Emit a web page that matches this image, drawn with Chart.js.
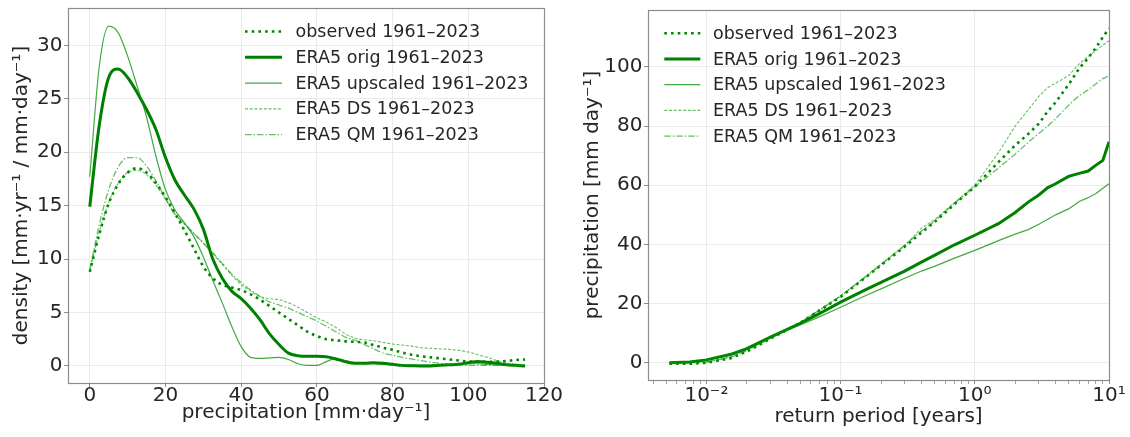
<!DOCTYPE html>
<html lang="en">
<head>
<meta charset="UTF-8">
<title>Precipitation density and return periods</title>
<script src="https://cdn.jsdelivr.net/npm/chart.js"></script>
<style>
  body { margin: 0; background: #fff; }
  canvas { position: absolute; top: 0; }
</style>
</head>
<body>
<canvas id="densityChart" width="565" height="437" style="left:0"></canvas>
<canvas id="returnChart" width="565" height="437" style="left:565px"></canvas>
<script>
// series names (same in both panels)
const seriesLabels = ['observed 1961–2023', 'ERA5 orig 1961–2023', 'ERA5 upscaled 1961–2023', 'ERA5 DS 1961–2023', 'ERA5 QM 1961–2023'];

// left panel: density [mm·yr-1 / mm·day-1] on a precipitation grid
const precipGrid = [0, 2.5, 5, 7.5, 10, 12.5, 15, 17.5, 20, 22.5, 25, 27.5, 30, 32.5, 35, 37.5, 40, 42.5, 45, 47.5,
  50, 52.5, 55, 57.5, 60, 62.5, 65, 67.5, 70, 72.5, 75, 77.5, 80, 82.5, 85, 87.5, 90, 92.5, 95, 97.5,
  100, 102.5, 105, 107.5, 110, 112.5, 115];
const densObserved = [8.8, 12.3, 15.2, 17.0, 18.1, 18.5, 18.1, 17.1, 15.8, 14.3, 12.7, 11.0, 9.3, 8.2, 7.6, 7.35, 7.1, 6.7, 6.2, 5.6,
  5.0, 4.4, 3.8, 3.2, 2.8, 2.5, 2.4, 2.3, 2.25, 2.2, 1.95, 1.7, 1.5, 1.25, 1.05, 0.9, 0.8, 0.7, 0.6, 0.5,
  0.42, 0.38, 0.38, 0.4, 0.45, 0.55, 0.6];
const densOrig = [14.9, 22.5, 27.0, 27.8, 27.0, 25.6, 24.0, 22.1, 19.5, 17.4, 16.0, 14.7, 12.8, 10.0, 8.2, 7.0, 6.3, 5.4, 4.3, 3.0,
  2.0, 1.2, 0.95, 0.9, 0.9, 0.85, 0.65, 0.4, 0.25, 0.25, 0.3, 0.25, 0.15, 0.05, 0.02, 0.0, 0.0, 0.05, 0.1, 0.15,
  0.3, 0.42, 0.35, 0.25, 0.1, 0.05, 0.0];
const densUpscaled = [17.7, 28.0, 31.8, 31.2, 29.0, 26.2, 23.3, 19.6, 16.5, 14.6, 13.4, 12.1, 10.2, 8.0, 5.9, 3.7, 1.8, 0.8, 0.7, 0.75,
  0.8, 0.6, 0.2, 0.05, 0.05, 0.4, 0.7, 0.5, 0.3, 0.2, 0.2, 0.15, 0.1, 0.1, 0.08, 0.08, 0.08, 0.1, 0.12, 0.15,
  0.2, 0.2, 0.15, 0.1, 0.08, 0.05, 0.05];
const densDS = [8.9, 12.5, 15.3, 17.1, 18.1, 18.3, 17.9, 16.9, 15.6, 14.2, 13.3, 12.4, 11.5, 10.5, 9.5, 8.5, 7.6, 7.0, 6.5, 6.3,
  6.2, 5.9, 5.5, 5.0, 4.5, 4.1, 3.6, 3.0, 2.6, 2.45, 2.35, 2.2, 2.05, 1.95, 1.85, 1.7, 1.65, 1.6, 1.55, 1.45,
  1.3, 1.05, 0.8, 0.5, 0.3, 0.15, 0.1];
const densQM = [9.0, 13.2, 16.5, 18.6, 19.5, 19.5, 18.7, 17.3, 15.7, 14.2, 13.3, 12.4, 11.5, 10.6, 9.6, 8.6, 7.8, 7.1, 6.5, 6.0,
  5.7, 5.4, 5.0, 4.6, 4.2, 3.7, 3.2, 2.7, 2.4, 2.0, 1.6, 1.2, 1.0, 0.8, 0.65, 0.5, 0.35, 0.25, 0.15, 0.1,
  0.05, 0.05, 0.05, 0.05, 0.05, 0.05, 0.05];
const precipTicks = [0, 20, 40, 60, 80, 100, 120];
const densityTicks = [0, 5, 10, 15, 20, 25, 30];

// right panel: precipitation [mm day-1] against return period [years]
const returnPeriods = [0.0053, 0.0075, 0.01, 0.015, 0.02, 0.03, 0.05, 0.07, 0.1, 0.15, 0.2, 0.3, 0.4, 0.5,
  0.7, 1, 1.5, 2, 2.5, 3, 3.5, 4, 5, 6, 7, 8, 9, 10];
const rpObserved = [-0.3, -0.3, 0, 1.5, 3.8, 8.2, 13.5, 17.8, 22.3, 28.5, 33, 39.2, 44, 47.5,
  53.5, 59.5, 67.8, 73.5, 77.3, 80.8, 85, 88, 94, 99.5, 103, 106.5, 110, 113];
const rpOrig = [0, 0.3, 1.0, 2.8, 4.8, 8.7, 13.3, 16.7, 20.5, 24.5, 27.2, 31, 34, 36.3,
  39.8, 43.1, 47, 50.8, 54.3, 56.7, 59.2, 60.5, 63, 64, 64.8, 66.8, 68.4, 74.7];
const rpUpscaled = [0, 0.3, 1.0, 2.9, 5.0, 8.8, 12.8, 15.6, 18.8, 22.5, 25, 28.6, 31, 32.6,
  35.3, 38, 41.3, 43.5, 45, 46.8, 48.5, 50, 52, 54.5, 55.8, 57.2, 59, 60.5];
const rpDS = [0, 0, 0.3, 2, 4.3, 8.5, 13.6, 17.9, 22.6, 28.8, 33.3, 39.5, 45.5, 48.3,
  54, 60, 71, 80, 85.5, 90, 93, 94.5, 97, 101, 103.5, 105.5, 107.3, 108.8];
const rpQM = [0, 0, 0.2, 1.8, 4.1, 8.4, 13.6, 17.9, 22.6, 28.7, 33.2, 39.8, 44.5, 47.8,
  53.8, 59.5, 65.8, 70.5, 74.5, 77.5, 80, 82.5, 87, 90.3, 92.2, 94.3, 96, 97];
const precipTicksRight = [0, 20, 40, 60, 80, 100];

// ---- styles ----
const FONT = 'DejaVu Sans';
const TEXT = '#262626';
const SPINE = '#8c8c8c';
const GRID = '#ebebeb';
const lineStyles = [
  { borderColor: 'rgb(0,135,0)', borderWidth: 2.6, borderDash: [2.6, 4.1] },
  { borderColor: 'rgb(0,128,0)', borderWidth: 3, borderDash: [] },
  { borderColor: 'rgba(0,140,0,0.75)', borderWidth: 1.2, borderDash: [] },
  { borderColor: 'rgba(0,150,0,0.6)', borderWidth: 1.1, borderDash: [3, 1.7] },
  { borderColor: 'rgba(0,150,0,0.6)', borderWidth: 1.3, borderDash: [6.5, 2, 1.5, 2] }
];

function makeSets(xs, series) {
  return series.map((ys, i) => ({
    label: seriesLabels[i],
    data: xs.map((x, j) => ({ x: x, y: ys[j] })),
    fill: false,
    pointRadius: 0,
    order: series.length - i,
    ...lineStyles[i]
  }));
}

// axes frame (all four spines)
const frame = {
  id: 'frame',
  afterDatasetsDraw(chart) {
    const { ctx, chartArea: a } = chart;
    ctx.save();
    ctx.strokeStyle = SPINE;
    ctx.lineWidth = 1.2;
    ctx.strokeRect(Math.round(a.left) + 0.5, Math.round(a.top) + 0.5,
      Math.round(a.right - a.left), Math.round(a.bottom - a.top));
    ctx.restore();
  }
};

// legend without a box, like the original
const legendKey = {
  id: 'legendKey',
  afterDraw(chart, args, opts) {
    const ctx = chart.ctx;
    ctx.save();
    ctx.font = '17.5px "' + FONT + '"';
    ctx.textBaseline = 'middle';
    ctx.fillStyle = TEXT;
    chart.data.datasets.forEach((ds, i) => {
      const y = opts.top + i * opts.step;
      ctx.beginPath();
      ctx.strokeStyle = ds.borderColor;
      ctx.lineWidth = ds.borderWidth;
      ctx.setLineDash(ds.borderDash);
      ctx.moveTo(opts.left, y);
      ctx.lineTo(opts.left + opts.width, y);
      ctx.stroke();
      ctx.setLineDash([]);
      ctx.fillText(ds.label, opts.textX, y + 1);
    });
    ctx.restore();
  }
};

function fixedTicks(values) {
  return s => { s.ticks = values.map(v => ({ value: v })); };
}

const supers = { '-': '⁻', '0': '⁰', '1': '¹', '2': '²', '3': '³' };
const isDecade = v => Math.abs(Math.log10(v) - Math.round(Math.log10(v))) < 1e-6;

// left: density
new Chart(document.getElementById('densityChart'), {
  type: 'line',
  data: { datasets: makeSets(precipGrid, [densObserved, densOrig, densUpscaled, densDS, densQM]) },
  options: {
    responsive: false,
    animation: false,
    layout: { padding: { top: 8, right: 21, left: 0, bottom: 0 } },
    elements: { line: { cubicInterpolationMode: 'monotone' } },
    plugins: {
      legend: { display: false },
      tooltip: { enabled: false },
      legendKey: { left: 245, width: 37, textX: 295.5, top: 31.5, step: 25.8 }
    },
    scales: {
      x: {
        type: 'linear', min: -5.75, max: 120,
        afterBuildTicks: fixedTicks(precipTicks),
        afterFit: s => { s.height = 54; },
        ticks: { font: { family: FONT, size: 20, lineHeight: 1 }, color: TEXT, padding: -1.2, maxRotation: 0 },
        grid: { color: GRID, tickColor: SPINE, tickLength: 4 },
        border: { display: false },
        title: { display: true, text: 'precipitation [mm·day⁻¹]', color: TEXT,
          font: { family: FONT, size: 20 }, padding: { top: 0, bottom: 12 } }
      },
      y: {
        min: -1.6, max: 33.5,
        afterBuildTicks: fixedTicks(densityTicks),
        afterFit: s => { s.width = 68; },
        ticks: { font: { family: FONT, size: 20, lineHeight: 0.6 }, color: TEXT, padding: 1.5 },
        grid: { color: GRID, tickColor: SPINE, tickLength: 4 },
        border: { display: false },
        title: { display: true, text: 'density [mm·yr⁻¹ / mm·day⁻¹]', color: TEXT,
          font: { family: FONT, size: 20 }, padding: { top: 10, bottom: 0 } }
      }
    }
  },
  plugins: [frame, legendKey]
});

// right: return levels
new Chart(document.getElementById('returnChart'), {
  type: 'line',
  data: { datasets: makeSets(returnPeriods, [rpObserved, rpOrig, rpUpscaled, rpDS, rpQM]) },
  options: {
    responsive: false,
    animation: false,
    layout: { padding: { top: 10, right: 21, left: 0, bottom: 0 } },
    elements: { line: { tension: 0 } },
    plugins: {
      legend: { display: false },
      tooltip: { enabled: false },
      legendKey: { left: 99.3, width: 36, textX: 148, top: 33.3, step: 25.7 }
    },
    scales: {
      x: {
        type: 'logarithmic', min: 0.00367, max: 10,
        afterBuildTicks: s => {
          const t = [];
          for (let e = -3; e <= 1; e++) {
            for (let m = 1; m <= 9; m++) {
              const v = m * Math.pow(10, e);
              if (v >= s.min && v <= s.max * 1.0001) t.push({ value: v });
            }
          }
          s.ticks = t;
        },
        afterFit: s => { s.height = 57; },
        ticks: {
          font: { family: FONT, size: 20, lineHeight: 1 }, color: TEXT, padding: 1.3,
          autoSkip: false, maxRotation: 0, minRotation: 0,
          callback: v => isDecade(v)
            ? '10' + String(Math.round(Math.log10(v))).split('').map(c => supers[c]).join('')
            : ''
        },
        grid: {
          color: c => (c.tick && isDecade(c.tick.value)) ? GRID : 'rgba(0,0,0,0)',
          tickColor: SPINE,
          tickWidth: c => (c.tick && isDecade(c.tick.value)) ? 1 : 0.8,
          tickLength: 4
        },
        border: { display: false },
        title: { display: true, text: 'return period [years]', color: TEXT,
          font: { family: FONT, size: 20 }, padding: { top: 0, bottom: 8 } }
      },
      y: {
        min: -5.8, max: 119.2,
        afterBuildTicks: fixedTicks(precipTicksRight),
        afterFit: s => { s.width = 83; },
        ticks: { font: { family: FONT, size: 20, lineHeight: 0.6 }, color: TEXT, padding: 1.5 },
        grid: { color: GRID, tickColor: SPINE, tickLength: 4 },
        border: { display: false },
        title: { display: true, text: 'precipitation [mm day⁻¹]', color: TEXT,
          font: { family: FONT, size: 20 }, padding: { top: 16, bottom: 0 } }
      }
    }
  },
  plugins: [frame, legendKey]
});
</script>
</body>
</html>
